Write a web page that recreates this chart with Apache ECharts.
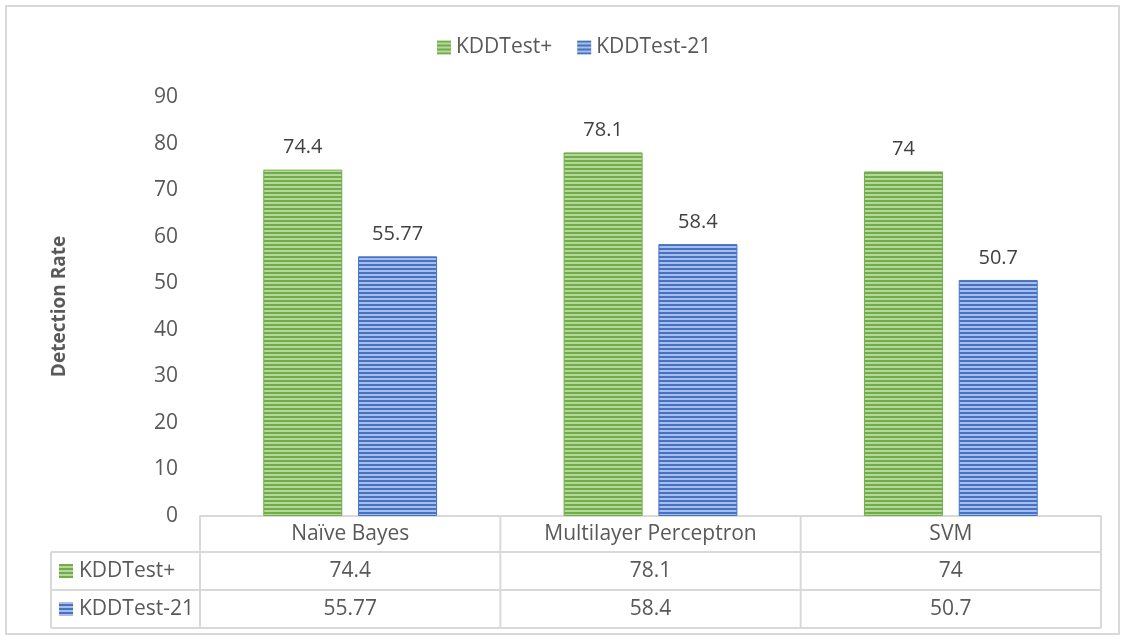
<!DOCTYPE html>
<html>
<head>
<meta charset="utf-8">
<script src="https://cdn.jsdelivr.net/npm/echarts@6/dist/echarts.min.js"></script>
<style>
  html, body { margin: 0; padding: 0; background: #fff; }
  #chart { width: 1124px; height: 640px; }
</style>
</head>
<body>
<div id="chart"></div>
<script>
// data
const categories = ['Naïve Bayes', 'Multilayer Perceptron', 'SVM'];
const seriesNames = ['KDDTest+', 'KDDTest-21'];
const kddTestPlus = [74.4, 78.1, 74];
const kddTest21 = [55.77, 58.4, 50.7];
const yTicks = [0, 90, 10]; // min, max, interval

const FONT = '"Open Sans", "Noto Sans", sans-serif';
const FS = 21;
const TXT = '#595959';
const LINE = '#d9d9d9';

// striped fill like the excel pattern
function stripes(dark, light) {
  const c = document.createElement('canvas');
  c.width = 4; c.height = 4;
  const ctx = c.getContext('2d');
  ctx.fillStyle = dark; ctx.fillRect(0, 0, 4, 4);
  ctx.fillStyle = light; ctx.fillRect(0, 2, 4, 2);
  return c;
}
const greenFill = { image: stripes('#70ad47', '#b5d79e'), repeat: 'repeat' };
const blueFill = { image: stripes('#4472c4', '#a9bde6'), repeat: 'repeat' };
const fills = [greenFill, blueFill];
const borders = ['#70ad47', '#4472c4'];

const chart = echarts.init(document.getElementById('chart'));

const makeSeries = (name, data, i) => ({
  name: name,
  type: 'bar',
  data: data,
  barWidth: 79,
  barGap: '20%',
  itemStyle: { color: fills[i], borderColor: borders[i], borderWidth: 1 },
  label: {
    show: true, position: 'top', distance: 12,
    fontFamily: FONT, fontSize: 20, color: '#404040'
  }
});

const option = {
  animation: false,
  backgroundColor: '#fff',
  legend: {
    top: 32, left: 432,
    icon: 'rect',
    itemWidth: 14, itemHeight: 14, itemGap: 25,
    itemStyle: { borderWidth: 0 },
    textStyle: { fontFamily: FONT, fontSize: FS, color: TXT },
    data: seriesNames
  },
  grid: { left: 200, right: 23, top: 97, bottom: 124, containLabel: false },
  xAxis: {
    type: 'category',
    data: categories,
    axisLine: { lineStyle: { color: LINE, width: 2 } },
    axisTick: { show: false },
    axisLabel: { margin: 8, fontFamily: FONT, fontSize: FS, color: TXT }
  },
  yAxis: {
    type: 'value',
    min: yTicks[0], max: yTicks[1], interval: yTicks[2],
    name: 'Detection Rate',
    nameLocation: 'middle', nameGap: 131, nameRotate: 90,
    nameTextStyle: { fontFamily: FONT, fontSize: 19, fontWeight: 'bold', color: TXT },
    axisLine: { show: false },
    axisTick: { show: false },
    splitLine: { show: false },
    axisLabel: { margin: 22, fontFamily: FONT, fontSize: FS, color: TXT }
  },
  series: [makeSeries(seriesNames[0], kddTestPlus, 0), makeSeries(seriesNames[1], kddTest21, 1)]
};
chart.setOption(option);

// data table under the axis, placed from the axis scale
const rows = [kddTestPlus, kddTest21];
const x0 = chart.convertToPixel({ xAxisIndex: 0 }, 0);
const x1 = chart.convertToPixel({ xAxisIndex: 0 }, 1);
const band = x1 - x0;
const left = x0 - band / 2;
const right = left + band * categories.length;
const yTop = chart.convertToPixel({ yAxisIndex: 0 }, 0);
const headH = 36, rowH = 38;
const tableLeft = 51;
const bottom = yTop + headH + rowH * rows.length;

const g = [];
const ln = (xa, ya, xb, yb) => g.push({
  type: 'line', shape: { x1: xa, y1: ya, x2: xb, y2: yb },
  style: { stroke: LINE, lineWidth: 2 }, silent: true
});
// outer frame
g.push({ type: 'rect', shape: { x: 6, y: 6, width: 1113, height: 628 },
  style: { fill: null, stroke: LINE, lineWidth: 2 }, silent: true });
// vertical lines
for (let i = 0; i <= categories.length; i++) ln(left + band * i, yTop, left + band * i, bottom);
ln(tableLeft, yTop + headH, tableLeft, bottom);
// horizontal lines
for (let r = 1; r <= rows.length; r++) {
  ln(tableLeft, yTop + headH + rowH * (r - 1), right, yTop + headH + rowH * (r - 1));
}
ln(tableLeft, bottom, right, bottom);
// cells
rows.forEach((vals, r) => {
  const cy = yTop + headH + rowH * r + rowH / 2;
  g.push({ type: 'rect', shape: { x: 59, y: cy - 7, width: 14, height: 14 },
    style: { fill: fills[r] }, silent: true });
  g.push({ type: 'text', x: 79, y: cy,
    style: { text: seriesNames[r], fontFamily: FONT, fontSize: FS, fill: TXT, verticalAlign: 'middle' } });
  vals.forEach((v, c) => {
    g.push({ type: 'text', x: left + band * c + band / 2, y: cy,
      style: { text: String(v), fontFamily: FONT, fontSize: FS, fill: TXT, align: 'center', verticalAlign: 'middle' } });
  });
});
chart.setOption({ graphic: g });
</script>
</body>
</html>
